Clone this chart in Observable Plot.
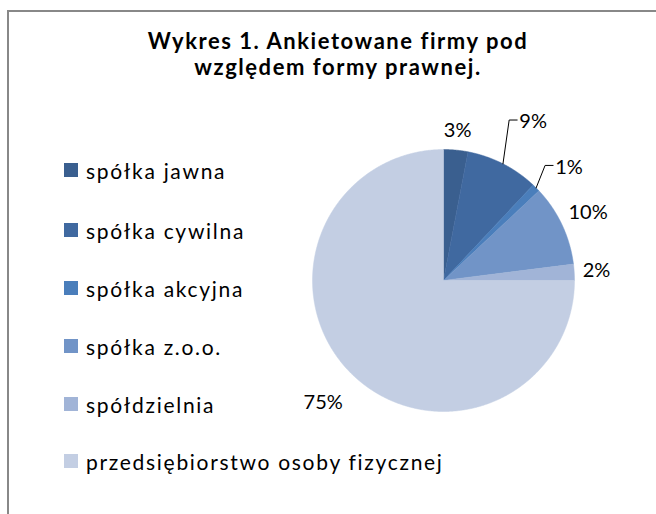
<!DOCTYPE html>
<html>
<head>
<meta charset="utf-8">
<script src="https://cdn.jsdelivr.net/npm/d3@7"></script>
<script src="https://cdn.jsdelivr.net/npm/@observablehq/plot@0.6"></script>
<style>
  html, body { margin: 0; padding: 0; background: #fff; }
  #wrap { position: relative; width: 656px; height: 514px; overflow: hidden; font-family: Lato, "Open Sans", sans-serif; color: #000; }
  #frame { position: absolute; left: 7px; top: 10px; width: 660px; height: 520px; border-top: 2px solid #888; border-left: 2px solid #888; box-sizing: border-box; }
  #title { position: absolute; left: 88px; width: 500px; top: 28px; text-align: center; font-weight: bold; font-size: 22px; line-height: 26px; letter-spacing: 1.55px; }
  #plot { position: absolute; left: 0; top: 0; }
  .leg { position: absolute; left: 64px; display: flex; align-items: center; font-size: 21px; height: 26px; letter-spacing: 1.7px; white-space: nowrap; }
  .leg .sw { width: 14px; height: 14px; margin-right: 8px; }
</style>
</head>
<body>
<div id="wrap">
  <div id="frame"></div>
  <div id="plot"></div>
  <div id="title">Wykres 1. Ankietowane firmy pod<br>względem formy prawnej.</div>
  <div id="legend"></div>
</div>
<script>
const categories = ["spółka jawna", "spółka cywilna", "spółka akcyjna", "spółka z.o.o.", "spółdzielnia", "przedsiębiorstwo osoby fizycznej"];
const values = [3, 9, 1, 10, 2, 75];
const valueLabels = ["3%", "9%", "1%", "10%", "2%", "75%"];
const colors = ["#3A5F8F", "#4069A0", "#4A7EBB", "#7194C7", "#A1B4D7", "#C3CEE3"];

// layout (not data)
const cx = 443, cy = 280, R = 131;
const labelRadius = [1.15, 1.39, 1.29, 1.22, 1.17, 1.31];
const labelAngleShift = [0, 2.5, 3, 0, 0, -0.5];
const hasLeader = [false, true, true, false, false, false];
const legendY = [170, 230, 288, 346, 404, 461];

const arcs = d3.pie().sort(null)(values);
const slicePts = [];
arcs.forEach((a, i) => {
  const n = Math.max(2, Math.ceil((a.endAngle - a.startAngle) / 0.005));
  slicePts.push({name: categories[i], x: 0, y: 0});
  for (let k = 0; k <= n; k++) {
    const t = a.startAngle + (a.endAngle - a.startAngle) * k / n;
    slicePts.push({name: categories[i], x: Math.sin(t), y: Math.cos(t)});
  }
  slicePts.push({name: categories[i], x: 0, y: 0});
});

const labelPts = arcs.map((a, i) => {
  const t = (a.startAngle + a.endAngle) / 2 + labelAngleShift[i] * Math.PI / 180;
  return {name: categories[i], text: valueLabels[i], x: labelRadius[i] * Math.sin(t), y: labelRadius[i] * Math.cos(t), mid: (a.startAngle + a.endAngle) / 2};
});

const leaderPts = [];
labelPts.forEach((l, i) => {
  if (!hasLeader[i]) return;
  leaderPts.push({g: i, x: Math.sin(l.mid), y: Math.cos(l.mid)});
  leaderPts.push({g: i, x: l.x - 24 / R, y: l.y + 2 / R});
  leaderPts.push({g: i, x: l.x - 16 / R, y: l.y + 2 / R});
});

const chart = Plot.plot({
  width: 656,
  height: 514,
  margin: 0,
  style: {background: "transparent", fontFamily: "Lato, 'Open Sans', sans-serif"},
  x: {domain: [-1, 1], range: [cx - R, cx + R], axis: null},
  y: {domain: [-1, 1], range: [cy + R, cy - R], axis: null},
  color: {domain: categories, range: colors},
  marks: [
    Plot.line(slicePts, {x: "x", y: "y", z: "name", fill: "name", stroke: "name", strokeWidth: 0.5}),
    Plot.line(leaderPts, {x: "x", y: "y", z: "g", stroke: "#000", strokeWidth: 1}),
    Plot.text(labelPts, {x: "x", y: "y", text: "text", fontSize: 20, fill: "#000", textAnchor: "middle", letterSpacing: 0.8})
  ]
});
document.getElementById("plot").appendChild(chart);

const leg = document.getElementById("legend");
categories.forEach((c, i) => {
  const d = document.createElement("div");
  d.className = "leg";
  d.style.top = (legendY[i] - 13) + "px";
  d.innerHTML = `<span class="sw" style="background:${colors[i]}"></span><span>${c}</span>`;
  leg.appendChild(d);
});
</script>
</body>
</html>
